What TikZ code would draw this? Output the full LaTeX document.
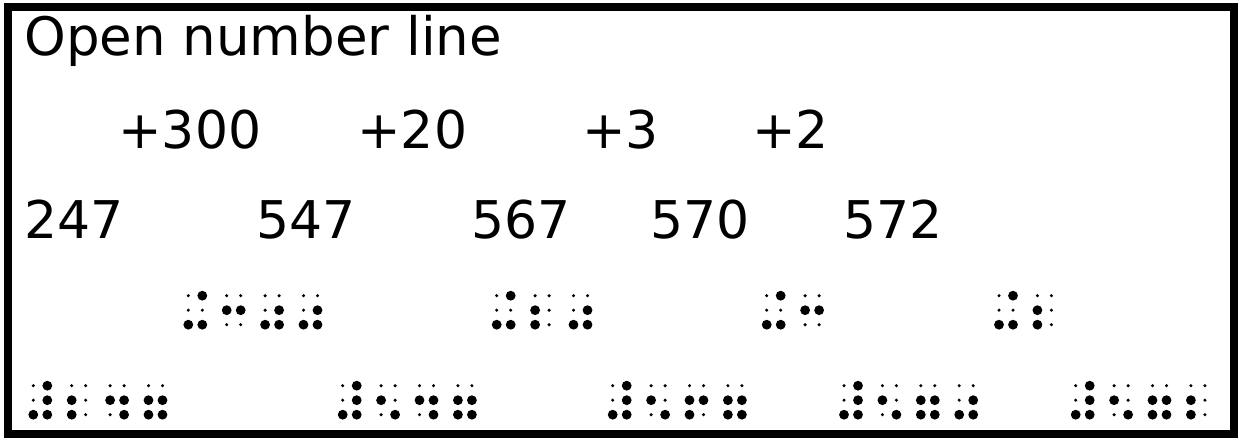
\documentclass[tikz,border=0pt]{standalone}
\usepackage{fontspec}
\setmainfont{DejaVu Sans}
\usetikzlibrary{positioning}

\tikzset{
  txt/.style={font=\fontsize{26}{31}\selectfont, anchor=base west, inner sep=0pt},
  heading/.style={txt, font=\fontsize{26.5}{31}\selectfont},
}

% one braille cell: left column x, top row y, raised dots (a macro holding the list)
\newcommand{\bcell}[3]{%
  \foreach \k in {1,...,6}{
    \pgfmathsetmacro\bx{#1+14*int((\k-1)/3)}
    \pgfmathsetmacro\by{#2+14.5*mod(\k-1,3)}
    \fill (\bx,\by) circle[radius=1.7];
  }
  \foreach \k in #3{
    \pgfmathsetmacro\bx{#1+14*int((\k-1)/3)}
    \pgfmathsetmacro\by{#2+14.5*mod(\k-1,3)}
    \fill (\bx,\by) circle[radius=4.9];
  }
}
% a row of cells
\newcommand{\bword}[3]{%
  \foreach \c [count=\i from 0] in {#3}{
    \bcell{#1+38.4*\i}{#2}{\c}
  }
}

\begin{document}
\begin{tikzpicture}[x=0.5pt,y=-0.5pt]
  \useasboundingbox (0,0) rectangle (1240,442);
  \draw[line width=4pt] (8,7.5) rectangle (1233.5,433.5);
  % heading
  \node[heading] (title) at (24,56) {Open number line};
  % jumps
  \node[txt] (p300) at (118,149) {+300};
  \node[txt] (p20) at (357,149) {+20};
  \node[txt] (p3) at (582,149) {+3};
  \node[txt] (p2) at (752,149) {+2};
  % numbers on the line
  \node[txt] (n247) at (24,239) {247};
  \node[txt] (n547) at (256,239) {547};
  \node[txt] (n567) at (471,239) {567};
  \node[txt] (n570) at (650,239) {570};
  \node[txt] (n572) at (843,239) {572};
  % braille jumps (Nemeth)
  \bword{188.3}{295.7}{{3,4,6},{2,5},{3,5,6},{3,5,6}}
  \bword{496.7}{295.7}{{3,4,6},{2,3},{3,5,6}}
  \bword{766.7}{295.7}{{3,4,6},{2,5}}
  \bword{999}{295.7}{{3,4,6},{2,3}}
  % braille numbers
  \bword{33.3}{385.7}{{3,4,5,6},{2,3},{2,5,6},{2,3,5,6}}
  \bword{342.7}{385.7}{{3,4,5,6},{2,6},{2,5,6},{2,3,5,6}}
  \bword{612.7}{385.7}{{3,4,5,6},{2,6},{2,3,5},{2,3,5,6}}
  \bword{844}{385.7}{{3,4,5,6},{2,6},{2,3,5,6},{3,5,6}}
  \bword{1075.7}{385.7}{{3,4,5,6},{2,6},{2,3,5,6},{2,3}}
\end{tikzpicture}
\end{document}
